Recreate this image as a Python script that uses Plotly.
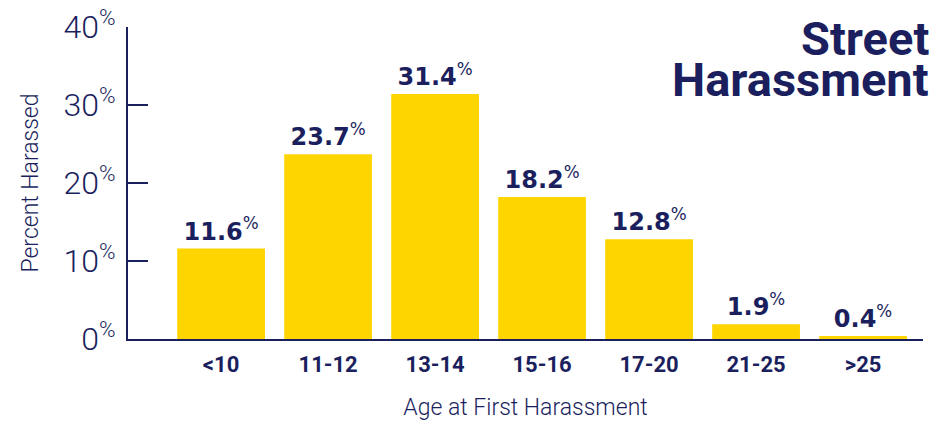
import plotly.graph_objects as go

categories = ["<10", "11-12", "13-14", "15-16", "17-20", "21-25", ">25"]
values = [11.6, 23.7, 31.4, 18.2, 12.8, 1.9, 0.4]
y_tick_vals = [0, 10, 20, 30, 40]
y_tick_text = [f"{v}<sup>%</sup>" for v in y_tick_vals]

NAVY = "#1b1f5e"
GOLD = "#ffd500"

fig = go.Figure(go.Bar(
    x=categories,
    y=values,
    marker=dict(color=GOLD, line=dict(width=0)),
    text=[f"<b>{v}</b><sup>%</sup>" for v in values],
    textposition="outside",
    textfont=dict(family="DejaVu Sans", size=24, color=NAVY),
    cliponaxis=False,
    hoverinfo="skip",
))

# The page body adds an 8px offset; the figure is sized to fit the window.
fig.update_layout(
    width=937, height=419,
    margin=dict(l=120, r=22, t=19, b=88),
    paper_bgcolor="white", plot_bgcolor="white",
    bargap=0.18,
    showlegend=False,
    font=dict(family="Roboto", color=NAVY),
    xaxis=dict(
        type="category",
        range=[-0.87, 6.56],
        automargin=False,
        showline=True, linecolor=NAVY, linewidth=2,
        ticks="", showgrid=False, zeroline=False,
        tickfont=dict(family="Roboto", size=22, color=NAVY, weight="bold"),
        ticklabelstandoff=5,
        title=dict(text="Age at First Harassment",
                   font=dict(family="Roboto", size=23, color=NAVY, weight=300),
                   standoff=22),
    ),
    yaxis=dict(
        range=[0, 40],
        automargin=False,
        tickvals=y_tick_vals, ticktext=y_tick_text,
        ticklabeloverflow="allow",
        showline=True, linecolor=NAVY, linewidth=2,
        ticks="inside", ticklen=20, tickwidth=2, tickcolor=NAVY,
        showgrid=False, zeroline=False,
        tickfont=dict(family="Roboto", size=32, color=NAVY, weight=300),
        ticklabelstandoff=4,
        title=dict(text="Percent Harassed",
                   font=dict(family="Roboto", size=23, color=NAVY, weight=300),
                   standoff=18),
    ),
    annotations=[
        dict(text="<b>Street</b>", xref="paper", yref="paper",
             x=1.01, y=0.9635, xanchor="right", yanchor="middle",
             height=36, valign="middle",
             showarrow=False,
             font=dict(family="Roboto", size=47, color=NAVY)),
        dict(text="<b>Harassment</b>", xref="paper", yref="paper",
             x=1.01, y=0.833, xanchor="right", yanchor="middle",
             height=36, valign="middle",
             showarrow=False,
             font=dict(family="Roboto", size=47, color=NAVY)),
    ],
)

fig.write_html("out.html")
